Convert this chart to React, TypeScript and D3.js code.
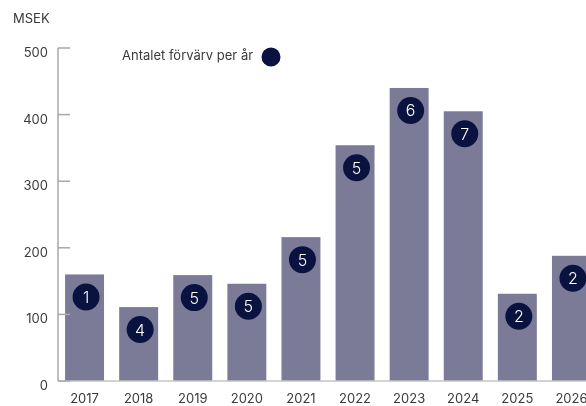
import React from 'react';
import * as d3 from 'd3';

const years = ['2017', '2018', '2019', '2020', '2021', '2022', '2023', '2024', '2025', '2026'];
const values = [160, 111, 159, 146, 216, 354, 440, 405, 131, 188];
const counts = [1, 4, 5, 5, 5, 5, 6, 7, 2, 2];
const yTicks = [0, 100, 200, 300, 400, 500];

const W = 586;
const H = 406;
const barColor = '#7b7b98';
const dotColor = '#0a1240';
const textColor = '#3a3a3a';
const font = 'Inter, "Noto Sans", sans-serif';

const App: React.FC = () => {
  const x = d3.scaleBand<string>()
    .domain(years)
    .range([57.5, 598.5])
    .paddingInner(0.28)
    .paddingOuter(0.14);

  const y = d3.scaleLinear().domain([0, 500]).range([381, 48]);

  return (
    <div style={{ position: 'fixed', left: 0, top: 0 }}>
      <svg width={W} height={H} viewBox={`0 0 ${W} ${H}`} style={{ display: 'block', fontFamily: font }}>
        <text x={13} y={23} fontSize={13} fill={textColor}>MSEK</text>

        {/* Bars */}
        {years.map((yr, i) => (
          <rect
            key={`bar-${yr}`}
            x={x(yr)}
            y={y(values[i])}
            width={x.bandwidth()}
            height={y(0) - y(values[i])}
            fill={barColor}
          />
        ))}

        {/* Y axis */}
        <line x1={58} y1={y(500)} x2={58} y2={y(0)} stroke="#a8a8a8" strokeWidth={1.5} />
        <line x1={58} y1={y(0)} x2={W} y2={y(0)} stroke="#c4c4c4" strokeWidth={1.5} />
        {yTicks.map(t => (
          <g key={`tick-${t}`}>
            <line x1={58} y1={y(t)} x2={70} y2={y(t)} stroke="#a8a8a8" strokeWidth={1.5} />
            <text x={48} y={y(t) + 9} textAnchor="end" fontSize={13} fill={textColor}>{t}</text>
          </g>
        ))}

        {/* X labels */}
        {years.map(yr => (
          <text
            key={`xl-${yr}`}
            x={(x(yr) ?? 0) + x.bandwidth() / 2}
            y={403}
            textAnchor="middle"
            fontSize={13}
            fill={textColor}
          >
            {yr}
          </text>
        ))}

        {/* Acquisition count dots */}
        {years.map((yr, i) => {
          const cx = (x(yr) ?? 0) + x.bandwidth() / 2 + 1.5;
          const cy = y(values[i]) + 22.5;
          return (
            <g key={`dot-${yr}`}>
              <circle cx={cx} cy={cy} r={13.5} fill={dotColor} />
              <text x={cx} y={cy + 6} textAnchor="middle" fontSize={16} fontWeight={300} fill="#ffffff">{counts[i]}</text>
            </g>
          );
        })}

        {/* Legend */}
        <text x={122} y={60} fontSize={13} fill={textColor}>Antalet förvärv per år</text>
        <circle cx={271} cy={57} r={9.5} fill={dotColor} />
      </svg>
    </div>
  );
};

export default App;
